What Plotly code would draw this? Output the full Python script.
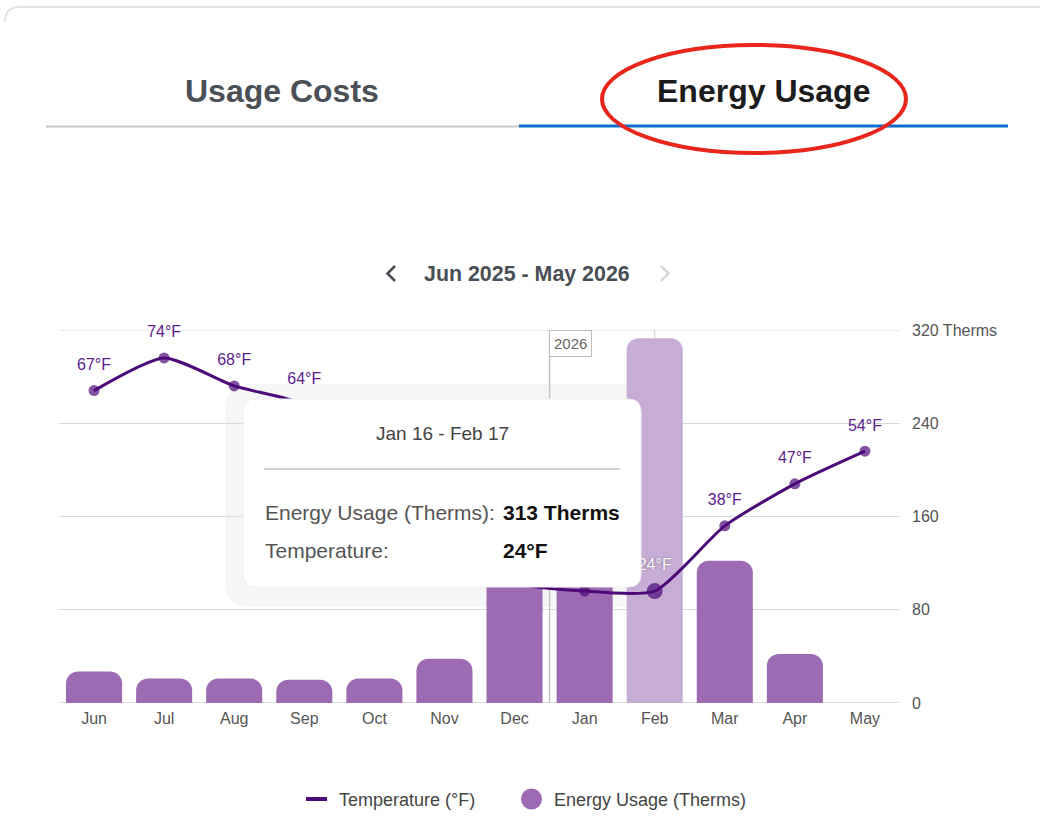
import plotly.graph_objects as go

W, H = 1040, 827

# ---------------- data ----------------
months = ["Jun", "Jul", "Aug", "Sep", "Oct", "Nov", "Dec", "Jan", "Feb", "Mar", "Apr", "May"]
usage_therms = [27, 21, 21, 20, 21, 38, 190, 250, 313, 122, 42, None]
temps_f = [67, 74, 68, 64, 52, 40, 26, 24, 24, 38, 47, 54]
highlight = "Feb"
period_label = "Jun 2025 - May 2026"
year_marker = "2026"
year_marker_pos = 6.5          # between Dec and Jan
tooltip_range = "Jan 16 - Feb 17"
therm_ticks = [0, 80, 160, 240, 320]
therm_tick_text = ["0", "80", "160", "240", "320 Therms"]
tab_labels = ["Usage Costs", "Energy Usage"]
legend_labels = ["Temperature (°F)", "Energy Usage (Therms)"]

# ---------------- style ----------------
FONT = "Liberation Sans, Arial, Helvetica, sans-serif"
BAR = "#9d6bb3"
BAR_HI = "#c7add5"
LINE = "#4b0a78"
LABEL = "#5c1d8d"
GRID = "#d9d9d9"
TXT = "#555555"

hi = months.index(highlight)


def px(x):
    return x / W


def py(y):
    return 1 - y / H


def rrect(x0, y0, x1, y1, r):
    return (f"M {px(x0 + r)},{py(y0)} L {px(x1 - r)},{py(y0)} "
            f"Q {px(x1)},{py(y0)} {px(x1)},{py(y0 + r)} L {px(x1)},{py(y1 - r)} "
            f"Q {px(x1)},{py(y1)} {px(x1 - r)},{py(y1)} L {px(x0 + r)},{py(y1)} "
            f"Q {px(x0)},{py(y1)} {px(x0)},{py(y1 - r)} L {px(x0)},{py(y0 + r)} "
            f"Q {px(x0)},{py(y0)} {px(x0 + r)},{py(y0)} Z")


fig = go.Figure()

bar_colors = [BAR_HI if m == highlight else BAR for m in months]
fig.add_trace(go.Bar(
    x=months, y=usage_therms, marker=dict(color=bar_colors, cornerradius=12, line=dict(width=0)),
    width=0.8, yaxis="y", hoverinfo="skip", showlegend=False,
))

marker_sizes = [16 if m == highlight else 11 for m in months]
fig.add_trace(go.Scatter(
    x=months, y=temps_f, yaxis="y2", mode="lines+markers",
    line=dict(color=LINE, width=3, shape="spline", smoothing=0.6),
    marker=dict(color=LINE, size=marker_sizes, line=dict(width=0)),
    hoverinfo="skip", showlegend=False,
))

lab_x = [m for m in months if m != highlight]
lab_y = [t for m, t in zip(months, temps_f) if m != highlight]
fig.add_trace(go.Scatter(
    x=lab_x, y=lab_y, yaxis="y2", mode="markers+text",
    text=[f"{t}°F" for t in lab_y], textposition="top center",
    textfont=dict(family=FONT, size=16, color=LABEL),
    marker=dict(size=25, color="rgba(0,0,0,0)", line=dict(width=0)),
    cliponaxis=False, hoverinfo="skip", showlegend=False,
))
fig.add_trace(go.Scatter(
    x=[highlight], y=[temps_f[hi]], yaxis="y2", mode="markers+text",
    text=[f"{temps_f[hi]}°F"], textposition="top center",
    textfont=dict(family=FONT, size=16, color="#ffffff", shadow="0px 0px 2px #6a5a75"),
    marker=dict(size=25, color="rgba(0,0,0,0)", line=dict(width=0)),
    cliponaxis=False, hoverinfo="skip", showlegend=False,
))

shapes = []
# tooltip shadow (below grid)
shapes.append(dict(type="path", xref="paper", yref="paper", layer="below",
                   path=rrect(225, 384, 662, 607, 26), fillcolor="#f6f6f6", line=dict(width=0)))
# top & base grid lines
shapes.append(dict(type="line", xref="paper", yref="y", x0=px(59), x1=px(900),
                   y0=therm_ticks[-1], y1=therm_ticks[-1], layer="between", line=dict(color=GRID, width=1)))
shapes.append(dict(type="line", xref="paper", yref="y", x0=px(59), x1=px(900),
                   y0=therm_ticks[0], y1=therm_ticks[0], layer="between", line=dict(color="#d2d2d2", width=1.6)))
# year marker line & hover line
shapes.append(dict(type="line", xref="x", yref="y", x0=year_marker_pos, x1=year_marker_pos,
                   y0=0, y1=therm_ticks[-1], layer="between", line=dict(color="#c4c4c4", width=1.5)))
shapes.append(dict(type="line", xref="x", yref="y", x0=hi, x1=hi,
                   y0=0, y1=therm_ticks[-1], layer="between", line=dict(color="#d4d4d4", width=1)))
# tooltip box
shapes.append(dict(type="path", xref="paper", yref="paper", layer="above",
                   path=rrect(243, 399, 641, 587, 13), fillcolor="#ffffff",
                   line=dict(color="#f0f0f0", width=1)))
shapes.append(dict(type="line", xref="paper", yref="paper", layer="above",
                   x0=px(264), x1=px(620), y0=py(469), y1=py(469),
                   line=dict(color="#a8a8a8", width=1.2)))
# header: card border
shapes.append(dict(type="path", xref="paper", yref="paper", layer="above",
                   path=f"M {px(5)},{py(22)} Q {px(5)},{py(7)} {px(20)},{py(7)} L {px(1040)},{py(7)}",
                   line=dict(color="#e3e3e3", width=2)))
# tab underlines
shapes.append(dict(type="line", xref="paper", yref="paper", x0=px(46), x1=px(519), y0=py(126.5), y1=py(126.5),
                   line=dict(color="#c9c9c9", width=2)))
shapes.append(dict(type="line", xref="paper", yref="paper", x0=px(519), x1=px(1008), y0=py(126), y1=py(126),
                   line=dict(color="#0b6fcf", width=3)))
# red ellipse
shapes.append(dict(type="circle", xref="paper", yref="paper", x0=px(602), x1=px(906), y0=py(45), y1=py(153),
                   line=dict(color="#e8261b", width=4)))
# chevrons
shapes.append(dict(type="path", xref="paper", yref="paper",
                   path=f"M {px(395)},{py(266)} L {px(387.5)},{py(273.5)} L {px(395)},{py(281)}",
                   line=dict(color="#4a4e55", width=2.6)))
shapes.append(dict(type="path", xref="paper", yref="paper",
                   path=f"M {px(661)},{py(266)} L {px(668.5)},{py(273.5)} L {px(661)},{py(281)}",
                   line=dict(color="#d2d2d2", width=2.2)))
# legend swatches
shapes.append(dict(type="line", xref="paper", yref="paper", x0=px(306), x1=px(327), y0=py(799), y1=py(799),
                   line=dict(color=LINE, width=4)))
shapes.append(dict(type="circle", xref="paper", yref="paper", x0=px(521), x1=px(542), y0=py(788.5), y1=py(809.5),
                   fillcolor=BAR, line=dict(width=0)))

ann = []


def text(x, y, s, size, color, anchor="center", bold=False):
    ann.append(dict(xref="paper", yref="paper", x=px(x), y=py(y), text=f"<b>{s}</b>" if bold else s,
                    showarrow=False, xanchor=anchor, yanchor="middle",
                    font=dict(family=FONT, size=size, color=color)))


text(282, 91, tab_labels[0], 32, "#4b4f56", bold=True)
text(763, 91, tab_labels[1], 32, "#1c1c1c", bold=True)
text(527, 274, period_label, 21.4, "#4a4e55", bold=True)

# tooltip texts
text(442, 434, tooltip_range, 19, "#444444")
text(263, 512, "Energy Usage (Therms):", 21, "#555555", anchor="left")
text(501, 512, f"{usage_therms[hi]} Therms", 21, "#111111", anchor="left", bold=True)
text(263, 550, "Temperature:", 21, "#555555", anchor="left")
text(501, 550, f"{temps_f[hi]}°F", 21, "#111111", anchor="left", bold=True)

# legend texts
text(337, 800, legend_labels[0], 18, "#444444", anchor="left")
text(552, 800, legend_labels[1], 18, "#444444", anchor="left")

# year marker box
ann.append(dict(xref="x", yref="y", x=year_marker_pos, y=therm_ticks[-1], text=year_marker,
                showarrow=False, xanchor="left", yanchor="top", bgcolor="#ffffff",
                bordercolor="#bdbdbd", borderwidth=1, borderpad=4, xshift=-0.5,
                font=dict(family=FONT, size=15, color="#666666")))

fig.update_layout(
    width=W, height=H, margin=dict(l=0, r=0, t=0, b=0, pad=0, autoexpand=False),
    paper_bgcolor="#ffffff", plot_bgcolor="rgba(0,0,0,0)",
    bargap=0.2, showlegend=False,
    font=dict(family=FONT, color=TXT),
    xaxis=dict(domain=[px(59), px(900)], type="category", range=[-0.5, len(months) - 0.5],
               showgrid=False, zeroline=False, showline=False, ticks="", automargin=False,
               tickfont=dict(family=FONT, size=16, color=TXT), ticklabelstandoff=4, fixedrange=True),
    yaxis=dict(domain=[py(703), py(330)], range=[therm_ticks[0], therm_ticks[-1]], side="right",
               tickvals=therm_ticks, ticktext=therm_tick_text, showgrid=True, gridcolor=GRID, gridwidth=1,
               zeroline=False, showline=False, ticks="", ticklabelstandoff=11, automargin=False,
               tickfont=dict(family=FONT, size=16, color=TXT), fixedrange=True),
    yaxis2=dict(domain=[py(703), py(330)], range=[0, 80], overlaying="y", visible=False,
                automargin=False, fixedrange=True),
    shapes=shapes, annotations=ann,
)

fig.write_html(
    "out.html",
    config={"displayModeBar": False, "staticPlot": True},
    post_script=(
        "var d=document.getElementById('{plot_id}');"
        "d.style.position='fixed';d.style.top='0px';d.style.left='0px';"
        "document.documentElement.style.margin='0';document.documentElement.style.overflow='hidden';"
        "document.body.style.margin='0';document.body.style.padding='0';document.body.style.overflow='hidden';"
    ),
)
